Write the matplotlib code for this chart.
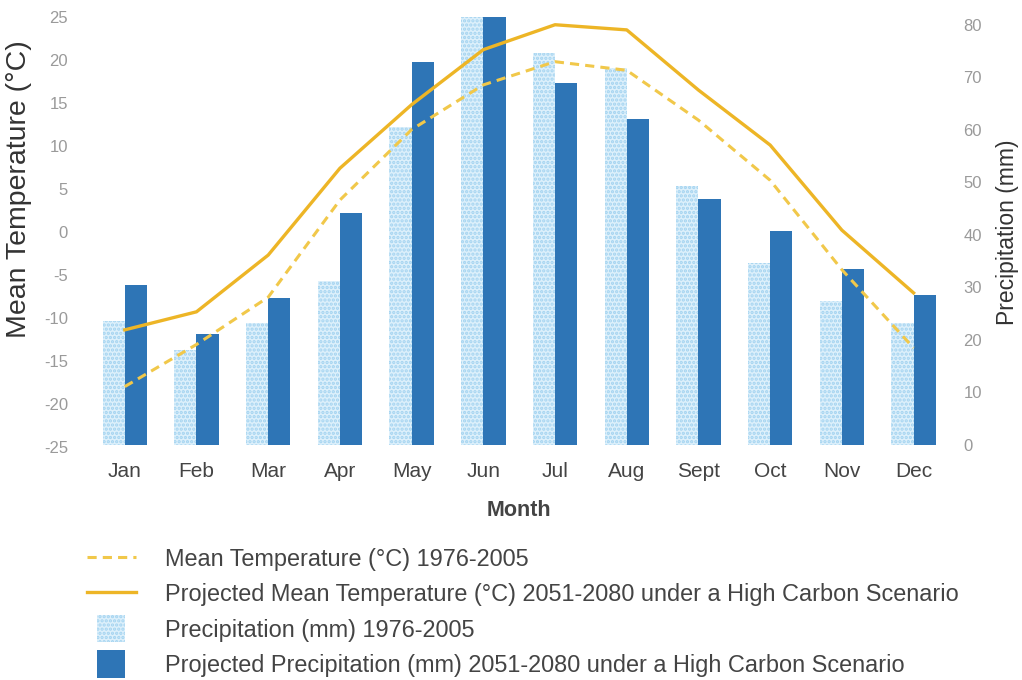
import numpy as np
import matplotlib.pyplot as plt
from matplotlib.lines import Line2D
from matplotlib.patches import Patch, Rectangle
from matplotlib.legend_handler import HandlerPatch

plt.rcParams['font.family'] = ['Liberation Sans', 'DejaVu Sans']
plt.rcParams['axes.unicode_minus'] = False
plt.rcParams['hatch.linewidth'] = 1.6

months = ['Jan', 'Feb', 'Mar', 'Apr', 'May', 'Jun', 'Jul', 'Aug', 'Sept', 'Oct', 'Nov', 'Dec']
temp_hist = [-18.0, -13.1, -7.6, 3.7, 11.9, 17.1, 19.8, 18.8, 13.0, 6.0, -4.4, -13.5]
temp_proj = [-11.4, -9.3, -2.7, 7.4, 14.8, 21.2, 24.1, 23.5, 16.5, 10.1, 0.2, -7.1]
precip_hist = [23.6, 18.1, 23.2, 31.2, 60.6, 81.5, 74.7, 71.8, 49.3, 34.7, 27.4, 23.2]
precip_proj = [30.5, 21.1, 28.0, 44.2, 73.0, 81.5, 69.0, 62.1, 46.9, 40.8, 33.5, 28.6]

gold = '#EDB526'
gold_light = '#F1C84A'
dark_blue = '#2E75B6'
light_blue = '#DDF0FB'
hatch_blue = '#A3D3F0'
tick_grey = '#9a9a9a'
text_grey = '#444444'

fig = plt.figure(figsize=(10.22, 6.8), dpi=100)
ax = fig.add_axes([0.087, 0.343, 0.842, 0.632])
ax2 = ax.twinx()

x = np.arange(len(months))
w = 0.31

# bars on the precipitation axis
ax2.bar(x - w / 2, precip_hist, w, color=light_blue, edgecolor=hatch_blue,
        hatch='....', linewidth=0, zorder=1)
ax2.bar(x + w / 2, precip_proj, w, color=dark_blue, linewidth=0, zorder=1)
ax2.set_ylim(-0.4, 81.5)
ax2.set_yticks(range(0, 81, 10))

# temperature lines drawn on top
ax.set_zorder(ax2.get_zorder() + 1)
ax.patch.set_visible(False)
ax.plot(x, temp_hist, color=gold_light, lw=2.2, ls=(0, (3, 2)))
ax.plot(x, temp_proj, color=gold, lw=2.4)
ax.set_ylim(-25, 25)
ax.set_yticks(range(-25, 26, 5))
ax.set_xlim(-0.5, 11.5)
ax.set_xticks(x)
ax.set_xticklabels(months)

for a in (ax, ax2):
    for s in a.spines.values():
        s.set_visible(False)
    a.tick_params(length=0)
ax.tick_params(axis='y', labelcolor=tick_grey, labelsize=12, pad=15)
ax2.tick_params(axis='y', labelcolor=tick_grey, labelsize=12, pad=10)
ax.tick_params(axis='x', labelcolor=text_grey, labelsize=15, pad=11)

ax.set_xlabel('Month', fontsize=15.5, color=text_grey, fontweight='bold', labelpad=14)
ax.set_ylabel('Mean Temperature (°C)', fontsize=20.5, color='#333333')
ax.yaxis.set_label_coords(-0.066, 0.6)
ax2.set_ylabel('Precipitation (mm)', fontsize=16.5, color='#333333', labelpad=10)


def small_square(legend, orig_handle, xdescent, ydescent, width, height, fontsize):
    s = 20
    return Rectangle((width / 2 - s / 2 - xdescent, height / 2 - s / 2 - ydescent), s, s)


handles = [
    Line2D([], [], color=gold_light, lw=2.2, ls=(0, (3, 2))),
    Line2D([], [], color=gold, lw=2.4),
    Patch(facecolor=light_blue, edgecolor=hatch_blue, hatch='....', linewidth=0),
    Patch(facecolor=dark_blue, linewidth=0),
]
labels = [
    'Mean Temperature (°C) 1976-2005',
    'Projected Mean Temperature (°C) 2051-2080 under a High Carbon Scenario',
    'Precipitation (mm) 1976-2005',
    'Projected Precipitation (mm) 2051-2080 under a High Carbon Scenario',
]
leg = fig.legend(handles, labels, loc='upper left', bbox_to_anchor=(0.064, 0.225),
                 frameon=False, fontsize=16.9, labelspacing=0.52, handlelength=2.1,
                 handletextpad=1.25, handleheight=0.9,
                 handler_map={Patch: HandlerPatch(patch_func=small_square)})
for t in leg.get_texts():
    t.set_color(text_grey)

fig.savefig('out.png', dpi=100)
